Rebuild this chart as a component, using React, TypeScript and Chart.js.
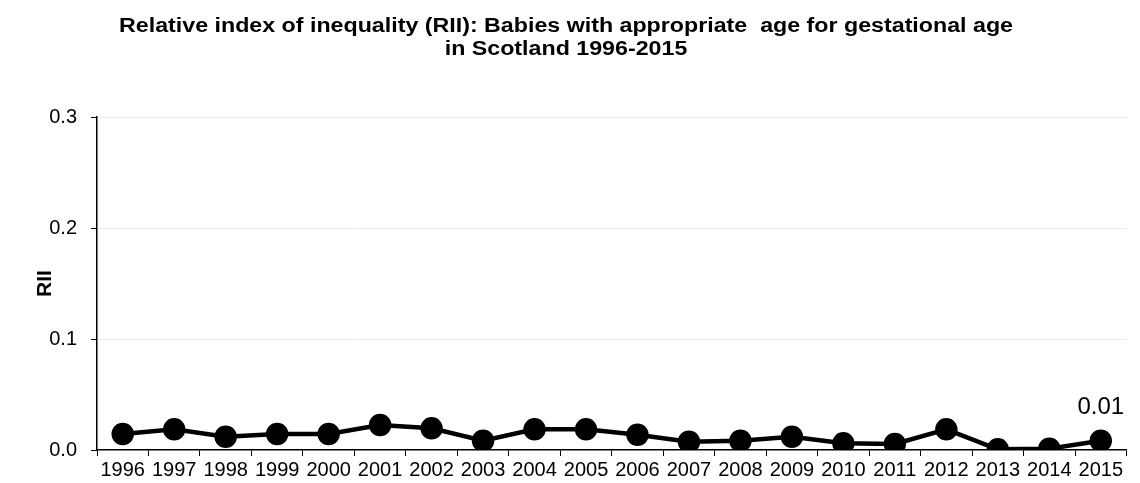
import React, { useEffect, useRef } from "react";
import { Chart, registerables } from "chart.js";

Chart.register(...registerables);

const years = ["1996","1997","1998","1999","2000","2001","2002","2003","2004","2005","2006","2007","2008","2009","2010","2011","2012","2013","2014","2015"];
const rii = [0.0144,0.0186,0.0120,0.0144,0.0144,0.0225,0.0195,0.0084,0.0186,0.0186,0.0138,0.0075,0.0084,0.0120,0.0060,0.0054,0.0186,0.0006,0.0012,0.0084];
const titleLines = ["Relative index of inequality (RII): Babies with appropriate  age for gestational age", "in Scotland 1996-2015"];
const yTitle = "RII";
const lastLabel = "0.01";

const FONT = "'Liberation Sans', Arial, sans-serif";

const titlePlugin = {
  id: "stretchedTitle",
  afterDraw(chart: any) {
    const ctx = chart.ctx;
    ctx.save();
    ctx.font = `bold 20px ${FONT}`;
    ctx.fillStyle = "#000";
    ctx.textAlign = "center";
    ctx.textBaseline = "alphabetic";
    const w0 = ctx.measureText(titleLines[0]).width;
    const sx = 894 / w0;
    titleLines.forEach((t, i) => {
      ctx.save();
      ctx.translate(566, 32 + i * 23);
      ctx.scale(sx, 1);
      ctx.fillText(t, 0, 0);
      ctx.restore();
    });
    ctx.restore();
  },
};

const lastLabelPlugin = {
  id: "lastLabel",
  afterDatasetsDraw(chart: any) {
    const meta = chart.getDatasetMeta(0);
    const pt = meta.data[meta.data.length - 1];
    if (!pt) return;
    const ctx = chart.ctx;
    ctx.save();
    ctx.font = `24px ${FONT}`;
    ctx.fillStyle = "#000";
    ctx.textAlign = "center";
    ctx.textBaseline = "alphabetic";
    ctx.fillText(lastLabel, pt.x, pt.y - 27);
    ctx.restore();
  },
};

export default function App() {
  const ref = useRef<HTMLCanvasElement>(null);
  useEffect(() => {
    if (!ref.current) return;
    const chart = new Chart(ref.current, {
      type: "line",
      data: {
        labels: years,
        datasets: [
          {
            data: rii,
            borderColor: "#000",
            backgroundColor: "#000",
            borderWidth: 4.5,
            pointRadius: 9,
            pointHoverRadius: 9,
            pointBackgroundColor: "#000",
            pointBorderColor: "#000",
            tension: 0,
          },
        ],
      },
      options: {
        animation: false,
        responsive: true,
        maintainAspectRatio: false,
        layout: { padding: { left: 0, right: 10, top: 117, bottom: 0 } },
        plugins: {
          legend: { display: false },
          tooltip: { enabled: false },
          title: { display: false },
        },
        scales: {
          x: {
            offset: true,
            grid: {
              offset: true,
              drawOnChartArea: false,
              drawTicks: true,
              tickLength: 6,
              tickColor: "#000",
            },
            border: { color: "#000", width: 1.5 },
            ticks: {
              color: "#000",
              font: { family: FONT, size: 20 },
              maxRotation: 0,
              autoSkip: false,
              padding: 2,
            },
            afterFit: (s: any) => { s.height = 33; },
          },
          y: {
            min: 0,
            max: 0.3,
            grid: {
              color: (c: any) => (c.tick && c.tick.value === 0 ? "rgba(0,0,0,0)" : "#ececec"),
              tickColor: "#000",
              tickLength: 6,
            },
            border: { color: "#000", width: 1.5 },
            ticks: {
              stepSize: 0.1,
              color: "#000",
              font: { family: FONT, size: 20 },
              padding: 14,
              callback: (v: any) => Number(v).toFixed(1),
            },
            title: {
              display: true,
              text: yTitle,
              color: "#000",
              font: { family: FONT, size: 21, weight: "bold" },
              padding: { top: 33, bottom: 0 },
            },
            afterFit: (s: any) => { s.width = 97; },
          },
        },
      },
      plugins: [lastLabelPlugin, titlePlugin],
    });
    return () => chart.destroy();
  }, []);
  return (
    <div style={{ position: "absolute", left: 0, top: 0, width: 1140, height: 483 }}>
      <canvas ref={ref} />
    </div>
  );
}
